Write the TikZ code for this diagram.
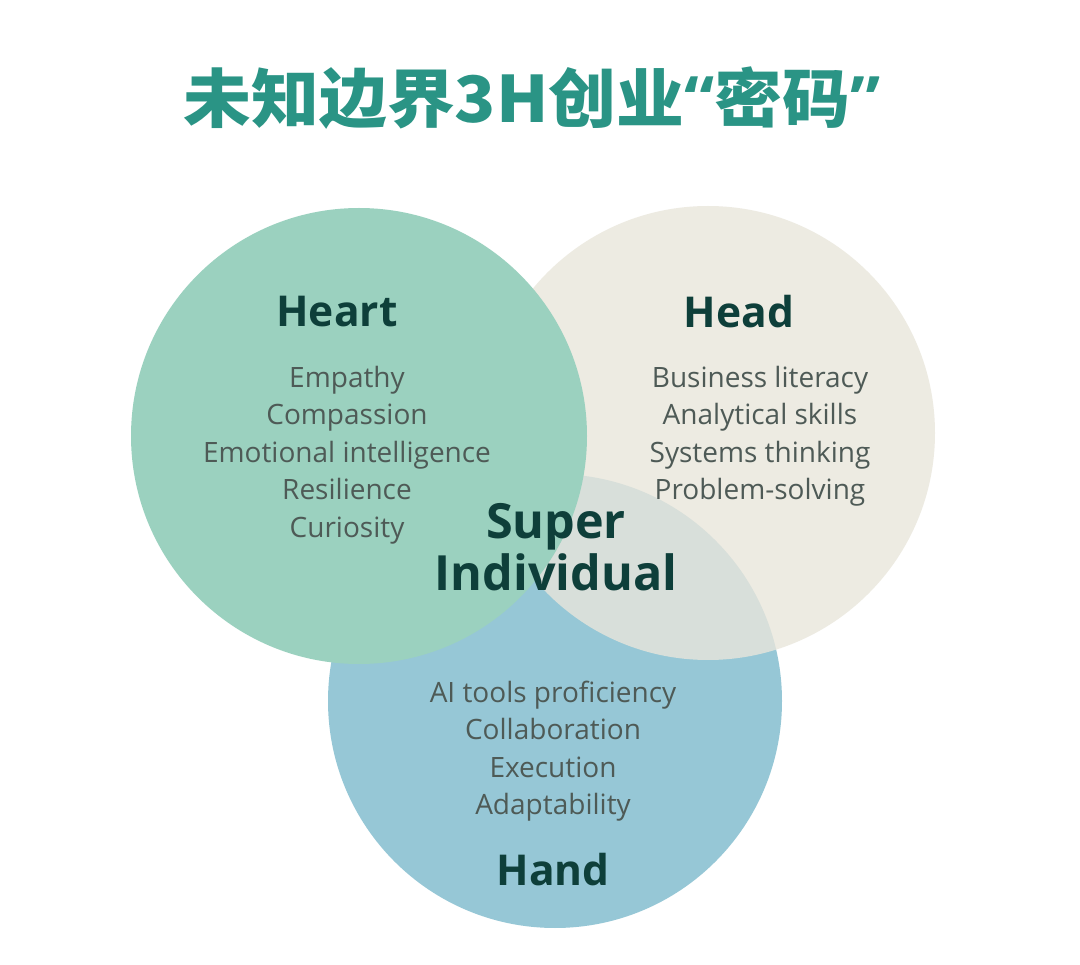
\documentclass[tikz,border=0pt]{standalone}
\usepackage{fontspec}
\setmainfont{Open Sans}
\newfontfamily\cjk{Noto Sans CJK SC Black}
\definecolor{heartc}{HTML}{9BD1BF}
\definecolor{headc}{HTML}{E9E6DB}
\definecolor{handc}{HTML}{96C7D6}
\definecolor{titlec}{HTML}{2A9485}
\definecolor{hdrc}{HTML}{0E3F3A}
\definecolor{bodyc}{HTML}{4E5A56}
\tikzset{
  disc/.style={circle, inner sep=0pt, minimum size=#1},
  hdr/.style={text=hdrc, font=\bfseries\fontsize{42.5}{48}\selectfont, inner sep=0pt},
  body/.style={text=bodyc, align=center, font=\fontsize{28}{37.5}\selectfont, inner sep=0pt},
}
\begin{document}
\begin{tikzpicture}[x=1pt,y=-1pt]
\fill[white] (0,0) rectangle (1080,965);
\useasboundingbox (0,0) rectangle (1080,965);
\node[disc=454pt, fill=handc] (handcirc) at (555,701) {};
\node[disc=454pt, fill=headc, fill opacity=0.8] (headcirc) at (708,433) {};
\node[disc=456pt, fill=heartc] (heartcirc) at (359,436) {};
\node[text=titlec, inner sep=0pt, font=\cjk\fontsize{64}{70}\selectfont] (title) at (532,98) {\scalebox{1.06}[1]{未知边界3H创业{\rmfamily\bfseries“}密码{\rmfamily\bfseries”}}};
\node[hdr] (heart) at (337,312) {Heart};
\node[hdr] (head) at (739,312) {Head};
\node[hdr] (hand) at (553,870) {Hand};
\node[body] (heartlist) at (347,455) {Empathy\\Compassion\\Emotional intelligence\\Resilience\\Curiosity};
\node[body] (headlist) at (760,436) {Business literacy\\Analytical skills\\Systems thinking\\Problem-solving};
\node[body] (handlist) at (553,751) {AI tools proficiency\\Collaboration\\Execution\\Adaptability};
\node[text=hdrc, align=center, inner sep=0pt, font=\bfseries\fontsize{48.5}{52}\selectfont] (super) at (556,547) {Super\\Individual};
\end{tikzpicture}
\end{document}
